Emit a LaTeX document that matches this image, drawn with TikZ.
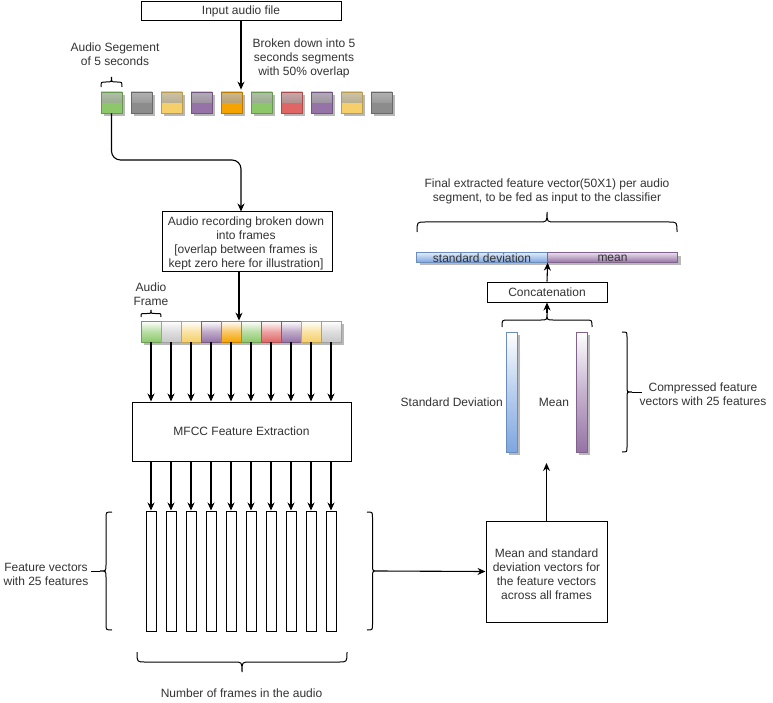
\documentclass[tikz,border=0pt]{standalone}
\usepackage{fontspec}
\setmainfont{Liberation Sans}
\usetikzlibrary{arrows.meta,shadows,calc}
\definecolor{txt}{HTML}{333333}
\definecolor{cg}{HTML}{8CC86A}
\definecolor{cgr}{HTML}{8C8C8C}
\definecolor{cfgr}{HTML}{C8C8C8}
\definecolor{cy}{HTML}{F5D06A}
\definecolor{cp}{HTML}{9673A6}
\definecolor{co}{HTML}{F5A300}
\definecolor{cr}{HTML}{E06666}
\definecolor{cb}{HTML}{7EA6E0}
\newcommand{\myhbrace}[5]{%
 \draw[brc] (#1,#3) .. controls (#1,{(#3+#4)/2}) .. ({#1+#5},{(#3+#4)/2})
  -- ({(#1+#2)/2-#5},{(#3+#4)/2}) .. controls ({(#1+#2)/2},{(#3+#4)/2}) .. ({(#1+#2)/2},#4)
  .. controls ({(#1+#2)/2},{(#3+#4)/2}) .. ({(#1+#2)/2+#5},{(#3+#4)/2})
  -- ({#2-#5},{(#3+#4)/2}) .. controls (#2,{(#3+#4)/2}) .. (#2,#3);}
\newcommand{\myvbrace}[5]{%
 \draw[brc] (#3,#1) .. controls ({(#3+#4)/2},#1) .. ({(#3+#4)/2},{#1+#5})
  -- ({(#3+#4)/2},{(#1+#2)/2-#5}) .. controls ({(#3+#4)/2},{(#1+#2)/2}) .. (#4,{(#1+#2)/2})
  .. controls ({(#3+#4)/2},{(#1+#2)/2}) .. ({(#3+#4)/2},{(#1+#2)/2+#5})
  -- ({(#3+#4)/2},{#2-#5}) .. controls ({(#3+#4)/2},#2) .. (#3,#2);}
\begin{document}
\begin{tikzpicture}[x=1pt,y=-1pt, font=\fontsize{12}{14}\selectfont,
 box/.style={draw=black, line width=1pt, fill=white, inner sep=0pt, align=center, text=txt},
 arr/.style={draw=black, line width=1.1pt, -{Stealth[length=8pt,width=7pt]}},
 brc/.style={draw=black, line width=1pt},
 lbl/.style={align=center, inner sep=0pt, text=txt},
 shd/.style={drop shadow={shadow xshift=3pt, shadow yshift=-3pt, fill=black!28, opacity=1}},
 seg/.style={minimum size=21pt, inner sep=0pt, draw=#1!75!black, line width=0.8pt, fill=#1, shd,
   path picture={\shade[top color=gray!50!white, bottom color=gray!90!#1, opacity=.75] (path picture bounding box.north west) rectangle (path picture bounding box.east);}},
 frm/.style={minimum width=20pt, minimum height=21pt, inner sep=0pt, draw=#1!80!black, line width=0.8pt,
   top color=white, bottom color=#1, middle color=#1!60},
 vec/.style={draw=black, line width=1pt, fill=white, minimum width=10pt, minimum height=120pt, inner sep=0pt},
 cvec/.style={draw=#1!85!black, line width=0.8pt, minimum width=11pt, minimum height=120pt, inner sep=0pt,
   top color=white, bottom color=#1, middle color=#1!55, shd},
 barpart/.style={draw=#1!85!black, line width=0.8pt, minimum width=130.5pt, minimum height=9.5pt, inner sep=0pt,
   top color=#1!25, bottom color=#1, shd}]
\useasboundingbox[fill=white] (0,0) rectangle (773,703);

% top
\node[box, minimum width=200pt, minimum height=19pt] (in) at (241,11.5) {Input audio file};
\node[lbl] (segtxt) at (115,54) {Audio Segement\\of 5 seconds};
\node[lbl] (brktxt) at (304,58.5) {Broken down into 5\\seconds segments\\with 50\% overlap};

\foreach \c [count=\i] in {cg,cgr,cy,cp,co,cg,cr,cp,cy,cgr}
  \node[seg=\c] (s\i) at ({111.5+30*(\i-1)},102.5) {};
\myhbrace{101}{122}{87}{77}{5}

\draw[arr] (in.south) -- ([yshift=2pt]in.south |- s1.north);

% frames box
\node[box, minimum width=170pt, minimum height=59pt] (fbox) at (247,241.5) {};
\node[lbl] (fboxtxt) at (246,243) {Audio recording broken down\\into frames\\{}[overlap between frames is\\kept zero here for illustration]};
\coordinate (bend) at (241,160);
\draw[arr, rounded corners=9pt] (s1.south) |- (bend) -- (fbox.north -| bend);

\node[lbl] (frtxt) at (151,294) {Audio\\Frame};
\node[fill=black!28, minimum width=200pt, minimum height=21pt, inner sep=0pt] (fshadow) at (244,334.5) {};
\foreach \c [count=\i] in {cg,cfgr,cy,cp,co,cg,cr,cp,cy,cfgr}
  \node[frm=\c] (f\i) at ({151+20*(\i-1)},331.5) {};
\myhbrace{141}{161}{317}{310}{4}
\draw[arr] ([xshift=-8pt]fbox.south) -- ([xshift=-8pt]fbox.south |- f1.north);

% MFCC
\node[box, minimum width=219pt, minimum height=59pt] (mfcc) at (241.5,431.5) {MFCC Feature Extraction};
\foreach \i in {1,...,10} {
  \node[vec] (v\i) at ({151+20*(\i-1)},571) {};
  \draw[arr] (f\i.south) -- (f\i.south |- mfcc.north);
  \draw[arr] (v\i.north |- mfcc.south) -- (v\i.north);
}

% braces around vectors
\myvbrace{512}{630}{112}{100}{6}
\coordinate (lbtip) at (100,571);
\draw[brc] (lbtip) -- ++(-9,0);
\node[lbl] (fvtxt) at (46,574) {Feature vectors\\with 25 features};
\myvbrace{512}{630}{367}{378}{5.5}
\coordinate (rbtip) at (378,571);
\myhbrace{137}{347}{652}{672}{8}
\node[lbl] (nftxt) at (241.5,693) {Number of frames in the audio};

% mean / std box
\node[box, minimum width=121pt, minimum height=101pt] (mbox) at (546.5,571.5) {};
\node[lbl] (mboxtxt) at (546.5,574) {Mean and standard\\deviation vectors for\\the feature vectors\\across all frames};
\draw[arr] (rbtip) -- (mbox.west);
\coordinate (mupend) at (546.5,463);
\draw[arr] (mbox.north) -- (mupend);

% compressed vectors
\node[cvec=cb] (sd) at (511.5,392) {};
\node[cvec=cp] (mn) at (581.5,392) {};
\node[lbl, anchor=east] (sdtxt) at (503,402) {Standard Deviation};
\node[lbl] (mntxt) at (554,402) {Mean};
\myvbrace{332}{452}{622}{632}{5}
\coordinate (cbtip) at (632,392);
\draw[brc] (cbtip) -- ++(10,0);
\node[lbl] (cmptxt) at (703,394) {Compressed feature\\vectors with 25 features};

% concatenation
\myhbrace{502}{592}{327}{313}{6}
\coordinate (mbtip) at (547,313);
\node[box, minimum width=120pt, minimum height=20pt] (cat) at (547,292) {Concatenation};
\draw[arr] (mbtip) -- (cat.south);

\node[barpart=cb] (bsd) at (482,257.5) {};
\node[barpart=cp] (bmn) at (612.5,257.5) {};
\node[lbl] (bsdtxt) at (482,258.5) {standard deviation};
\node[lbl] (bmntxt) at (612.5,258.5) {mean};
\draw[arr] (cat.north) -- (bsd.south east);
\myhbrace{417}{677}{232}{212}{8}
\node[lbl] (fintxt) at (547,191.5) {Final extracted feature vector(50X1) per audio\\segment, to be fed as input to the classifier};
\end{tikzpicture}
\end{document}
